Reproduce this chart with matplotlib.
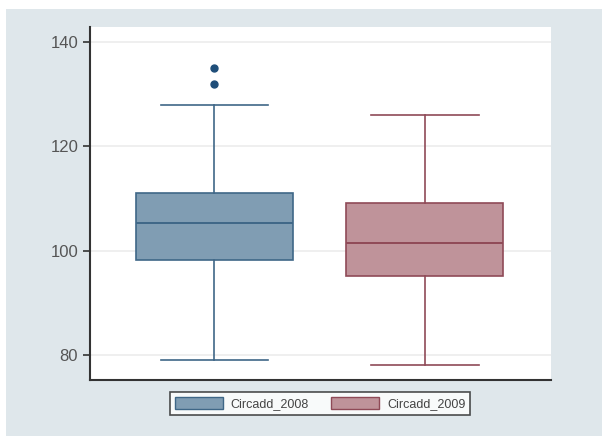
import numpy as np
import matplotlib.pyplot as plt
from matplotlib.patches import Patch, Rectangle

plt.rcParams['font.family'] = ['Liberation Sans', 'DejaVu Sans']

# --- 数据 (箱线图统计量) ---
series = ['Circadd_2008', 'Circadd_2009']
q1 = [98.2, 95.2]
median = [105.4, 101.5]
q3 = [111.0, 109.1]
whislo = [79.0, 78.0]
whishi = [128.0, 126.0]
fliers = [[132.0, 135.0], []]
yticks = [80, 100, 120, 140]

fill_colors = ['#809db3', '#bf939a']
edge_colors = ['#3f6787', '#8f4a57']

fig = plt.figure(figsize=(6.02, 4.36), dpi=100)
fig.patch.set_facecolor('white')
# 外围浅灰蓝背景
fig.patches.append(Rectangle((6 / 602, 0), 596 / 602, 427 / 436,
                             transform=fig.transFigure, facecolor='#dfe7eb',
                             edgecolor='none', zorder=-10))

ax = fig.add_axes([90 / 602, 56 / 436, 461 / 602, 353 / 436])
ax.set_facecolor('white')

stats = []
for i in range(len(series)):
    stats.append({'med': median[i], 'q1': q1[i], 'q3': q3[i],
                  'whislo': whislo[i], 'whishi': whishi[i],
                  'fliers': fliers[i], 'label': series[i]})

for i, st in enumerate(stats):
    c = edge_colors[i]
    ax.bxp([st], positions=[i + 1], widths=0.746, patch_artist=True,
           showfliers=True,
           boxprops=dict(facecolor=fill_colors[i], edgecolor=c, linewidth=1.2),
           medianprops=dict(color=c, linewidth=1.4),
           whiskerprops=dict(color=c, linewidth=1.2),
           capprops=dict(color=c, linewidth=1.2),
           capwidths=0.51,
           flierprops=dict(marker='o', markerfacecolor='#1f4e79',
                           markeredgecolor='#1f4e79', markersize=5))

ax.set_xlim(0.4086, 2.599)
ax.set_ylim(75.2, 142.9)
ax.set_yticks(yticks)
ax.set_xticks([])
ax.yaxis.grid(True, color='#ececec', linewidth=1.2)
ax.set_axisbelow(True)
ax.tick_params(axis='y', direction='out', length=5, width=1.2,
               labelsize=12, labelcolor='#555555', color='#333333')
for s in ['top', 'right']:
    ax.spines[s].set_visible(False)
for s in ['left', 'bottom']:
    ax.spines[s].set_color('#333333')
    ax.spines[s].set_linewidth(1.5)

handles = [Patch(facecolor=fill_colors[i], edgecolor=edge_colors[i], label=series[i])
           for i in range(len(series))]
leg = fig.legend(handles=handles, loc='center', bbox_to_anchor=(320 / 602, 0.0745),
                 ncol=2, fontsize=9, frameon=True, fancybox=False,
                 handlelength=3.85, handleheight=1.1, handletextpad=0.64,
                 columnspacing=1.76, borderpad=0.4)
leg.get_frame().set_edgecolor('#222222')
leg.get_frame().set_linewidth(1.2)
leg.get_frame().set_facecolor('white')
for t in leg.get_texts():
    t.set_color('#444444')

fig.savefig('out.png', dpi=100, facecolor=fig.get_facecolor())
